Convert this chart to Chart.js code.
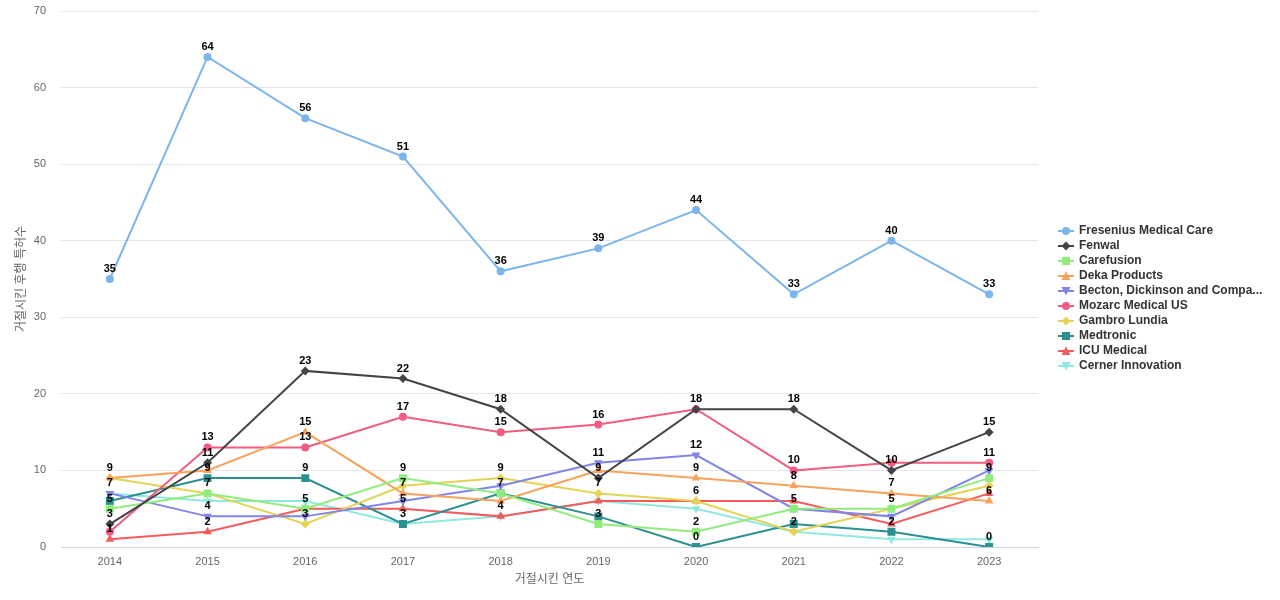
<!DOCTYPE html>
<html>
<head>
<meta charset="utf-8">
<script src="https://cdn.jsdelivr.net/npm/chart.js@4/dist/chart.umd.min.js"></script>
<style>
  html, body { margin: 0; padding: 0; background: #fff; }
  #wrap { position: relative; width: 1280px; height: 600px; }
  #legend { position: absolute; left: 1058px; top: 223px; font: bold 12px "Liberation Sans", Arial, sans-serif; color: #333; }
  .row { height: 15px; line-height: 15px; display: flex; align-items: center; white-space: nowrap; }
  .row svg { width: 16px; height: 12px; margin-right: 5px; flex: none; }
</style>
</head>
<body>
<div id="wrap">
  <canvas id="c" width="1280" height="600"></canvas>
  <div id="legend"></div>
</div>
<script>
const years = ['2014','2015','2016','2017','2018','2019','2020','2021','2022','2023'];
const seriesNames = ['Fresenius Medical Care','Fenwal','Carefusion','Deka Products','Becton, Dickinson and Company','Mozarc Medical US','Gambro Lundia','Medtronic','ICU Medical','Cerner Innovation'];
const fresenius  = [35,64,56,51,36,39,44,33,40,33];
const fenwal     = [3,11,23,22,18,9,18,18,10,15];
const carefusion = [5,7,5,9,7,3,2,5,5,9];
const deka       = [9,10,15,7,6,10,9,8,7,6];
const becton     = [7,4,4,6,8,11,12,5,4,10];
const mozarc     = [2,13,13,17,15,16,18,10,11,11];
const gambro     = [9,7,3,8,9,7,6,2,5,8];
const medtronic  = [6,9,9,3,7,4,0,3,2,0];
const icu        = [1,2,5,5,4,6,6,6,3,7];
const cerner     = [7,6,6,3,4,6,5,2,1,1];
const yTicks = [0,10,20,30,40,50,60,70];
const xTitle = '거절시킨 연도';
const yTitle = '거절시킨 후행 특허수';

const seriesData = [fresenius, fenwal, carefusion, deka, becton, mozarc, gambro, medtronic, icu, cerner];
const colors = ['#7cb5ec','#434348','#90ed7d','#f7a35c','#8085e9','#f15c80','#e4d354','#2b908f','#f45b5b','#91e8e1'];
const shapes = ['circle','diamond','square','triangle','triangleDown','circle','diamond','square','triangle','triangleDown'];

function styleFor(shape) {
  switch (shape) {
    case 'circle': return {pointStyle:'circle', radius:4, rotation:0};
    case 'diamond': return {pointStyle:'rectRot', radius:4.5, rotation:0};
    case 'square': return {pointStyle:'rect', radius:5.6, rotation:0};
    case 'triangle': return {pointStyle:'triangle', radius:5, rotation:0};
    case 'triangleDown': return {pointStyle:'triangle', radius:5, rotation:180};
  }
}

const datasets = seriesNames.map((name, i) => {
  const s = styleFor(shapes[i]);
  return {
    label: name,
    data: seriesData[i],
    borderColor: colors[i],
    backgroundColor: colors[i],
    borderWidth: 2,
    pointStyle: s.pointStyle,
    pointRadius: s.radius,
    pointHoverRadius: s.radius,
    pointRotation: s.rotation,
    pointBorderWidth: 0,
    tension: 0,
    fill: false
  };
});

const labelPlugin = {
  id: 'ptLabels',
  afterDatasetsDraw(chart) {
    const ctx = chart.ctx;
    ctx.save();
    ctx.font = 'bold 11px "Liberation Sans", Arial, sans-serif';
    ctx.textAlign = 'center';
    ctx.textBaseline = 'middle';
    ctx.fillStyle = '#000';
    const boxes = [];
    const n = chart.data.labels.length;
    for (let i = 0; i < n; i++) {
      chart.data.datasets.forEach((ds, di) => {
        const el = chart.getDatasetMeta(di).data[i];
        const txt = String(ds.data[i]);
        const w = ctx.measureText(txt).width;
        const cx = el.x, cy = el.y - 10;
        const b = {l: cx - w/2 - 1, r: cx + w/2 + 1, t: cy - 6, b: cy + 6};
        if (boxes.some(o => b.l < o.r && b.r > o.l && b.t < o.b && b.b > o.t)) return;
        boxes.push(b);
        ctx.fillText(txt, cx, cy);
      });
    }
    ctx.restore();
  }
};

new Chart(document.getElementById('c'), {
  type: 'line',
  data: { labels: years, datasets },
  plugins: [labelPlugin],
  options: {
    responsive: false,
    animation: false,
    devicePixelRatio: 1,
    layout: { padding: { top: 11, right: 242, left: 0, bottom: 0 } },
    plugins: { legend: { display: false }, tooltip: { enabled: false } },
    scales: {
      x: {
        offset: true,
        grid: { display: false, drawTicks: false },
        border: { display: true, color: '#ccd6eb', width: 1 },
        ticks: { color: '#666', font: { size: 11, family: '"Liberation Sans", Arial, sans-serif' }, padding: 8, maxRotation: 0 },
        title: { display: true, text: xTitle, color: '#666', font: { size: 12, family: '"Liberation Sans", "Noto Sans CJK KR", sans-serif' }, padding: { top: 4, bottom: 13 } },
        afterFit: s => { s.height = 53; s.paddingLeft = 0; s.paddingRight = 0; }
      },
      y: {
        min: 0, max: 70,
        afterBuildTicks: s => { s.ticks = yTicks.map(v => ({value: v})); },
        grid: { color: ctx => ctx.tick && ctx.tick.value === 0 ? '#ccd6eb' : '#e6e6e6', drawTicks: false },
        border: { display: false },
        ticks: { color: '#666', font: { size: 11, family: '"Liberation Sans", Arial, sans-serif' }, padding: 15 },
        title: { display: true, text: yTitle, color: '#666', font: { size: 12, family: '"Liberation Sans", "Noto Sans CJK KR", sans-serif' }, padding: { top: 14, bottom: 4 } },
        afterFit: s => { s.width = 61; s.paddingTop = 0; s.paddingBottom = 0; }
      }
    }
  }
});

// HTML legend
function markerSvg(shape, color) {
  let m = '';
  switch (shape) {
    case 'circle': m = `<circle cx="8" cy="6" r="4" fill="${color}"/>`; break;
    case 'diamond': m = `<polygon points="8,1.5 12.5,6 8,10.5 3.5,6" fill="${color}"/>`; break;
    case 'square': m = `<rect x="4" y="2" width="8" height="8" fill="${color}"/>`; break;
    case 'triangle': m = `<polygon points="8,1.5 12.5,10 3.5,10" fill="${color}"/>`; break;
    case 'triangleDown': m = `<polygon points="3.5,2 12.5,2 8,10.5" fill="${color}"/>`; break;
  }
  return `<svg viewBox="0 0 16 12"><line x1="0" y1="6" x2="16" y2="6" stroke="${color}" stroke-width="2"/>${m}</svg>`;
}
const legend = document.getElementById('legend');
seriesNames.forEach((name, i) => {
  const row = document.createElement('div');
  row.className = 'row';
  const shown = name.length > 27 ? name.slice(0, 27) + '...' : name;
  row.innerHTML = markerSvg(shapes[i], colors[i]) + '<span></span>';
  row.querySelector('span').textContent = shown;
  legend.appendChild(row);
});
</script>
</body>
</html>
